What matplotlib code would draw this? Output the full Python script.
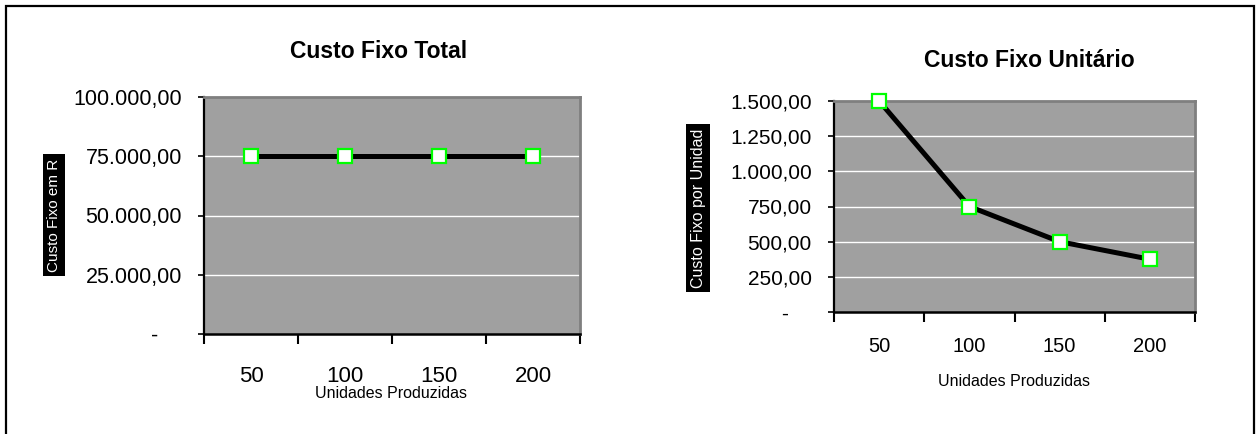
import numpy as np
import matplotlib
matplotlib.use("Agg")
import matplotlib.pyplot as plt
from matplotlib.patches import Rectangle
from matplotlib.ticker import FixedLocator, FixedFormatter, FuncFormatter

plt.rcParams["font.family"] = ["Liberation Sans", "DejaVu Sans"]

# dados
UNIDADES = [50, 100, 150, 200]
CUSTO_FIXO_TOTAL = [75000, 75000, 75000, 75000]
CUSTO_FIXO_UNIT = [1500, 750, 500, 375]
TICKS_TOTAL = [0, 25000, 50000, 75000, 100000]
TICKS_UNIT = [0, 250, 500, 750, 1000, 1250, 1500]

W, H = 1256, 434
PLOT_BG = "#a0a0a0"
EDGE = "#7f7f7f"
GREEN = "#00ff00"


def brl(v, pos=None):
    # formato contabil brasileiro: 75.000,00 e "-" para zero
    if v == 0:
        return "-\u2007\u2007"
    s = f"{v:,.2f}"
    return s.replace(",", "#").replace(".", ",").replace("#", ".")


def px(x0, y0, x1, y1):
    # caixa em pixels (origem no topo) -> fracao da figura
    return [x0 / W, 1 - y1 / H, (x1 - x0) / W, (y1 - y0) / H]


def grafico(fig, rect, valores, yticks, fs_y, fs_x, xpad):
    ax = fig.add_axes(rect)
    ax.set_facecolor(PLOT_BG)
    n = len(UNIDADES)
    x = np.arange(n)
    ax.plot(x, valores, color="black", lw=3.6, marker="s", ms=10,
            mfc="white", mec=GREEN, mew=1.6, clip_on=False, zorder=5)
    ax.set_xlim(-0.5, n - 0.5)
    ax.set_ylim(yticks[0], yticks[-1])
    ax.yaxis.set_major_locator(FixedLocator(yticks))
    ax.yaxis.set_major_formatter(FuncFormatter(brl))
    for yt in yticks[1:-1]:
        ax.axhline(yt, color="white", lw=1.0, zorder=1)
    # divisoes entre categorias e rotulos no centro
    ax.xaxis.set_major_locator(FixedLocator(np.arange(n + 1) - 0.5))
    ax.xaxis.set_major_formatter(FixedFormatter([""] * (n + 1)))
    ax.xaxis.set_minor_locator(FixedLocator(x))
    ax.xaxis.set_minor_formatter(FixedFormatter([str(u) for u in UNIDADES]))
    ax.tick_params(axis="x", which="major", length=7, width=1.5, direction="out")
    ax.tick_params(axis="x", which="minor", length=0, pad=xpad, labelsize=fs_x)
    ax.tick_params(axis="y", length=4, width=1.2, direction="out", pad=12,
                   labelsize=fs_y)
    ax.spines["left"].set_linewidth(1.6)
    ax.spines["bottom"].set_linewidth(1.8)
    for s in ("top", "right"):
        ax.spines[s].set_color(EDGE)
        ax.spines[s].set_linewidth(2.0)
    return ax


fig = plt.figure(figsize=(W / 100, H / 100), dpi=100)

# moldura externa
fig.patches.append(Rectangle((6 / W, -0.05), 1248 / W, 1 - 6 / H + 0.05,
                             transform=fig.transFigure, fill=False,
                             edgecolor="black", lw=1.6))

# Custo Fixo Total
grafico(fig, px(204, 97, 580, 334), CUSTO_FIXO_TOTAL, TICKS_TOTAL,
        fs_y=15.5, fs_x=16, xpad=23)
fig.text(379 / W, 1 - 52 / H, "Custo Fixo Total", ha="center", va="center",
         fontsize=16.5, weight="bold")
fig.text(391 / W, 1 - 394 / H, "Unidades Produzidas", ha="center",
         va="center", fontsize=11.5)
fig.text(54 / W, 1 - 215 / H, "Custo Fixo em R", rotation=90, ha="center",
         va="center", fontsize=11, color="white",
         bbox=dict(facecolor="black", edgecolor="none", pad=3))

# Custo Fixo Unitário
grafico(fig, px(834, 101, 1195, 312), CUSTO_FIXO_UNIT, TICKS_UNIT,
        fs_y=15, fs_x=14.5, xpad=18)
fig.text(1029 / W, 1 - 60 / H, "Custo Fixo Unitário", ha="center",
         va="center", fontsize=16.5, weight="bold")
fig.text(1014 / W, 1 - 381 / H, "Unidades Produzidas", ha="center",
         va="center", fontsize=11.5)
fig.text(698 / W, 1 - 208 / H, "Custo Fixo por Unidad", rotation=90,
         ha="center", va="center", fontsize=11.5, color="white",
         bbox=dict(facecolor="black", edgecolor="none", pad=3))

fig.savefig("out.png", dpi=100)
